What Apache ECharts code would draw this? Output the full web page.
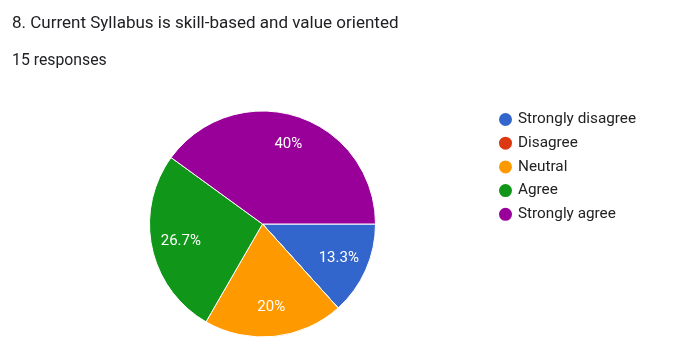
<!DOCTYPE html>
<html>
<head>
<meta charset="utf-8">
<script src="https://cdn.jsdelivr.net/npm/echarts@6/dist/echarts.min.js"></script>
<style>
html,body{margin:0;padding:0;background:#fff;}
#chart{width:687px;height:360px;}
</style>
</head>
<body>
<div id="chart"></div>
<script>
var titleText = '8. Current Syllabus is skill-based and value oriented';
var subtitleText = '15 responses';
var categories = ['Strongly disagree', 'Disagree', 'Neutral', 'Agree', 'Strongly agree'];
var counts = [2, 0, 3, 4, 6];
var colors = ['#3366cc', '#dc3912', '#ff9900', '#109618', '#990099'];

var total = counts.reduce(function (a, b) { return a + b; }, 0);
var pieData = categories.map(function (c, i) {
  return { name: c, value: counts[i], itemStyle: { color: colors[i] } };
});
var labelData = categories.map(function (c, i) {
  return { name: c, value: counts[i], itemStyle: { color: 'rgba(0,0,0,0)' } };
});
function fmtPct(p) {
  var v = Math.round(p.value / total * 1000) / 10;
  return v + '%';
}

var chart = echarts.init(document.getElementById('chart'), null, { renderer: 'canvas' });
chart.setOption({
  animation: false,
  backgroundColor: '#ffffff',
  color: colors,
  title: [
    { text: titleText, left: 7, top: 10,
      textStyle: { fontFamily: 'Roboto', fontSize: 17, fontWeight: 'normal', color: '#202124' } },
    { text: subtitleText, left: 7, top: 48,
      textStyle: { fontFamily: 'Roboto', fontSize: 15.8, fontWeight: 'normal', color: '#202124' } }
  ],
  legend: {
    orient: 'vertical',
    left: 492,
    top: 106,
    itemWidth: 15,
    itemHeight: 15,
    itemGap: 6.7,
    icon: 'circle',
    data: categories,
    textStyle: { fontFamily: 'Roboto', fontSize: 15.3, color: '#222222' }
  },
  series: [
    {
      type: 'pie',
      name: 'main',
      center: [262.5, 224],
      radius: [0, 113],
      startAngle: 0,
      clockwise: true,
      silent: true,
      label: { show: false },
      labelLine: { show: false },
      itemStyle: { borderColor: '#ffffff', borderWidth: 1 },
      data: pieData
    },
    {
      type: 'pie',
      name: 'labels',
      center: [262.5, 224],
      radius: [48, 113],
      startAngle: 0,
      clockwise: true,
      silent: true,
      legendHoverLink: false,
      label: {
        show: true,
        position: 'inside',
        formatter: function (p) { return p.value > 0 ? fmtPct(p) : ''; },
        fontFamily: 'Roboto',
        fontSize: 15,
        color: '#ffffff'
      },
      labelLine: { show: false },
      itemStyle: { color: 'rgba(0,0,0,0)' },
      data: labelData
    }
  ]
});
</script>
</body>
</html>
